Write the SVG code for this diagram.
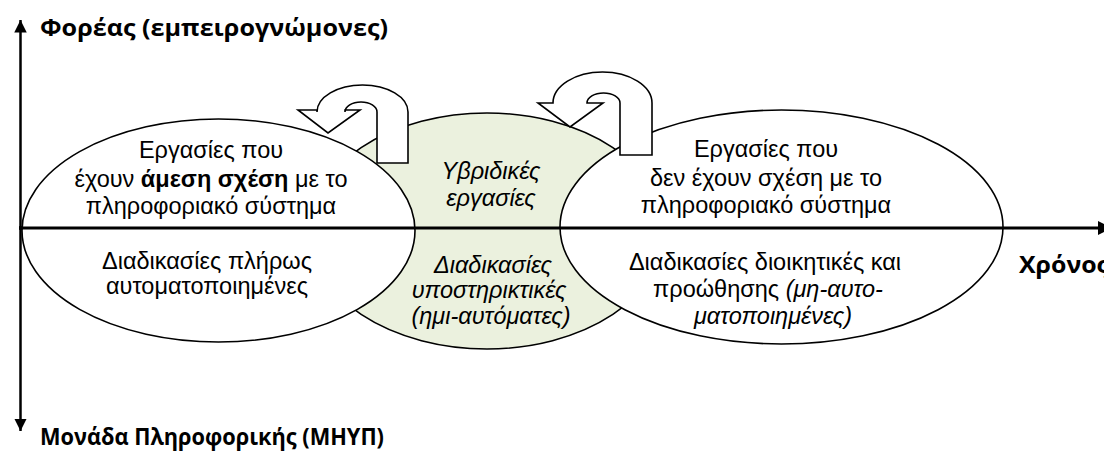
<svg xmlns="http://www.w3.org/2000/svg" width="1104" height="451" viewBox="0 0 1104 451">
  <style>
    .lbl { font-family: "Liberation Sans", Arial, sans-serif; font-size: 23.5px; fill: #000; text-anchor: middle; }
    .it { font-style: italic; }
    .b { font-weight: bold; }
    .axis-lbl { font-family: "Open Sans", "Noto Sans", sans-serif; font-weight: bold; font-size: 23px; fill: #000; }
    .shape { stroke: #000; stroke-width: 1.6; }
    .axis { stroke: #000; fill: none; }
    .uturn { fill: #fff; stroke: #000; stroke-width: 1.6; stroke-linejoin: miter; }
  </style>
  <defs>
    <marker id="head" viewBox="0 0 10 10" refX="10" refY="5" markerWidth="5" markerHeight="5" markerUnits="strokeWidth" orient="auto">
      <path d="M0,0 L10,5 L0,10 Z" fill="#000"/>
    </marker>
  </defs>

  <rect width="1104" height="451" fill="#fff"/>

  <!-- middle: hybrid tasks -->
  <g id="hybrid">
    <ellipse class="shape" cx="487" cy="231" rx="178" ry="118" fill="#EBF1DE"/>
  </g>

  <!-- left: tasks directly tied to the information system -->
  <g id="direct">
    <ellipse class="shape" cx="218.5" cy="230.5" rx="196.5" ry="111.5" fill="#fff"/>
  </g>

  <!-- right: tasks unrelated to the information system -->
  <g id="unrelated">
    <ellipse class="shape" cx="781.5" cy="227" rx="221.5" ry="117" fill="#fff"/>
  </g>

  <!-- connectors: axes and U-turn arrows -->
  <g id="connectors">
    <line class="axis" x1="20.5" y1="230" x2="20.5" y2="20" stroke-width="2.5" marker-end="url(#head)"/>
    <line class="axis" x1="20.5" y1="226" x2="20.5" y2="431" stroke-width="2.5" marker-end="url(#head)"/>
    <line class="axis" x1="19" y1="228" x2="1112" y2="228" stroke-width="2.8" marker-end="url(#head)"/>

    <path class="uturn" d="M408,163 L408,112 A45.5,27 0 0 0 317,112 L317,110 L298,110 L328,133 L360,110 L345,110 L345,112 A16,10 0 0 1 377,112 L377,163 Z"/>
    <path class="uturn" d="M652,155 L652,103 A49.5,31 0 0 0 553,103 L538,103 L570,127 L603,103 L587,103 A16.5,10 0 0 1 620,103 L620,155 Z"/>
  </g>

  <!-- texts -->
  <g id="direct-text">
    <text class="lbl" x="211" y="158">Εργασίες που</text>
    <text class="lbl" x="211" y="187">έχουν <tspan class="b">άμεση σχέση</tspan> με το</text>
    <text class="lbl" x="211" y="214">πληροφοριακό σύστημα</text>
    <text class="lbl" x="207" y="269">Διαδικασίες πλήρως</text>
    <text class="lbl" x="207" y="294">αυτοματοποιημένες</text>
  </g>

  <g id="hybrid-text">
    <text class="lbl it" x="491" y="179">Υβριδικές</text>
    <text class="lbl it" x="491" y="206">εργασίες</text>
    <text class="lbl it" x="493" y="273">Διαδικασίες</text>
    <text class="lbl it" x="489" y="298">υποστηρικτικές</text>
    <text class="lbl it" x="491" y="324">(ημι-αυτόματες)</text>
  </g>

  <g id="unrelated-text">
    <text class="lbl" x="766" y="157">Εργασίες που</text>
    <text class="lbl" x="766" y="186">δεν έχουν σχέση με το</text>
    <text class="lbl" x="766" y="213">πληροφοριακό σύστημα</text>
    <text class="lbl" x="765" y="270">Διαδικασίες διοικητικές και</text>
    <text class="lbl" x="768" y="297">προώθησης <tspan class="it">(μη-αυτο-</tspan></text>
    <text class="lbl it" x="773" y="324">ματοποιημένες)</text>
  </g>

  <g id="axis-labels">
    <text class="axis-lbl" x="40" y="36" textLength="348" lengthAdjust="spacingAndGlyphs">Φορέας (εμπειρογνώμονες)</text>
    <text class="axis-lbl" x="40" y="445" textLength="344" lengthAdjust="spacingAndGlyphs">Μονάδα Πληροφορικής (ΜΗΥΠ)</text>
    <text class="axis-lbl" x="1019" y="273" textLength="90" lengthAdjust="spacingAndGlyphs">Χρόνος</text>
  </g>
</svg>
